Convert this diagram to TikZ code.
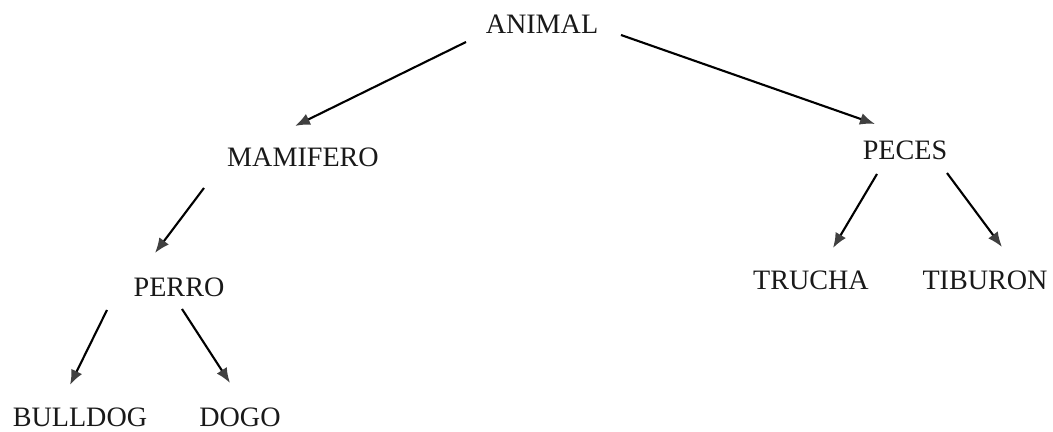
\documentclass[tikz,border=0pt]{standalone}
\usepackage{fontspec}
\setmainfont{Liberation Serif}
\usepackage{tikz}
\usetikzlibrary{arrows.meta,positioning}

\begin{document}
\begin{tikzpicture}[
		node distance=26mm,
		term/.style={rectangle, inner sep=0pt, font=\fontsize{16}{19}\selectfont, text=black!90}
	]
		\useasboundingbox (0,0) rectangle (21.06,-8.64);
		\node[term](animal) at (10.84,-0.48){ANIMAL};
		\node[term](mamifero)[below of=animal,xshift=-47.8mm,yshift=-0.6mm]{MAMIFERO};
		\node[term](peces)[below of=animal,xshift=72.6mm,yshift=0.8mm]{PECES};
		\node[term](perro)[below of=mamifero,xshift=-24.8mm]{PERRO};
		\node[term](trucha)[below of=peces,xshift=-18.8mm]{TRUCHA};
		\node[term](tiburon)[below of=peces,xshift=16mm]{TIBURON};
		\node[term](bulldog)[below of=perro,xshift=-19.8mm]{BULLDOG};
		\node[term](dogo)[below of=perro,xshift=12.2mm]{DOGO};
		
		\draw[line width=1.2pt,-{Latex[length=3mm,width=2.4mm,color=black!75]}]([shift={(-1.52,-0.36)}]animal.center) -- ([shift={(-0.16,0.62)}]mamifero.center);
		\draw[line width=1.2pt,-{Latex[length=3mm,width=2.4mm,color=black!75]}]([shift={(1.58,-0.22)}]animal.center) -- ([shift={(-0.60,0.52)}]peces.center);
		\draw[line width=1.2pt,-{Latex[length=3mm,width=2.4mm,color=black!75]}]([shift={(-1.98,-0.62)}]mamifero.center) -- ([shift={(-0.48,0.68)}]perro.center);
		\draw[line width=1.2pt,-{Latex[length=3mm,width=2.4mm,color=black!75]}]([shift={(-0.56,-0.48)}]peces.center) -- ([shift={(0.44,0.64)}]trucha.center);
		\draw[line width=1.2pt,-{Latex[length=3mm,width=2.4mm,color=black!75]}]([shift={(0.84,-0.46)}]peces.center) -- ([shift={(0.34,0.66)}]tiburon.center);
		\draw[line width=1.2pt,-{Latex[length=3mm,width=2.4mm,color=black!75]}]([shift={(-1.44,-0.46)}]perro.center) -- ([shift={(-0.20,0.64)}]bulldog.center);
		\draw[line width=1.2pt,-{Latex[length=3mm,width=2.4mm,color=black!75]}]([shift={(0.06,-0.44)}]perro.center) -- ([shift={(-0.20,0.68)}]dogo.center);
	\end{tikzpicture}
\end{document}
